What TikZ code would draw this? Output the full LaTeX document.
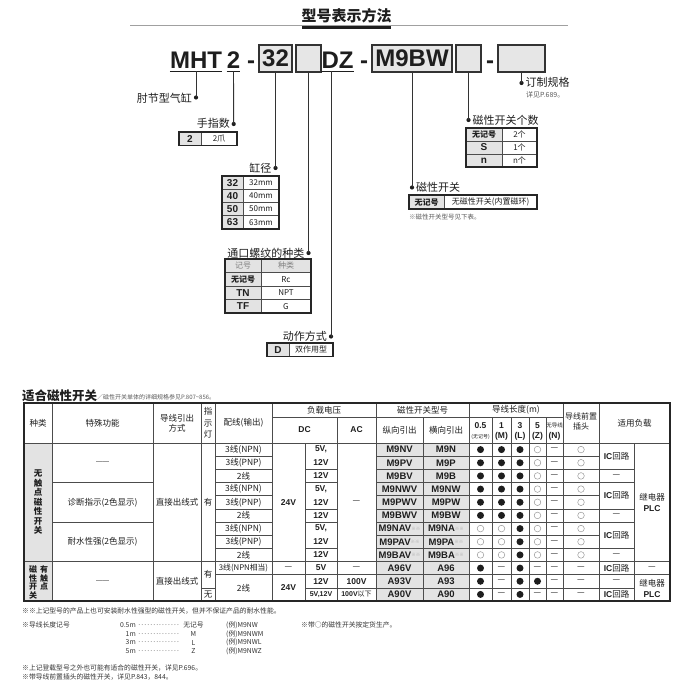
\documentclass[tikz,border=0pt]{standalone}
\usepackage{fontspec}
\setmainfont{Noto Sans CJK SC}
\newfontfamily\lat{Liberation Sans}
\usetikzlibrary{calc}
\newcommand\fsz[1]{\fontsize{#1}{#1}\selectfont}
\definecolor{cellgray}{HTML}{E3E3E3}
\definecolor{boxgray}{HTML}{E6E6E6}
\definecolor{rulegray}{HTML}{A0A0A0}
\definecolor{ink}{HTML}{1E1E1E}
\definecolor{soft}{HTML}{5A5A5A}
\newcommand\dstar{\raisebox{1.5pt}{\textcolor{black!35}{\rmfamily\mdseries\fsz{4.5}※※}}}
\newcommand\symF[3]{\fill[ink] (#2,#3) circle (3.5pt);}
\newcommand\symO[3]{\draw[black!40,line width=0.5pt] (#2,#3) circle (3.3pt);}
\newcommand\symD[3]{\node[cell] (#1) at (#2,#3) {—};}
\newcommand\ctrow[8]{%
  \fill[cellgray] (#2,#5) rectangle (#3,#6);
  \draw[ingrid] (#2,#5) rectangle (#4,#6) (#3,#5) -- (#3,#6);
  \node[ctl] (#1l) at ({(#2+#3)/2},{(#5+#6)/2}) {#7};
  \node[ctr] (#1r) at ({(#3+#4)/2},{(#5+#6)/2}) {#8};}
\begin{document}
\begin{tikzpicture}[x=1pt,y=-1pt,
  txt/.style={inner sep=0pt,text=ink},
  code/.style={txt,font=\lat\bfseries\fsz{24},anchor=base},
  cbox/.style={draw=black!80,line width=1.3pt,fill=boxgray,inner sep=0pt,minimum height=27pt,font=\lat\bfseries\fsz{24},text=ink},
  uline/.style={draw=ink,line width=1.3pt},
  lead/.style={draw=black!80,line width=0.9pt},
  dotc/.style={circle,fill=ink,inner sep=0pt,minimum size=4.2pt},
  lbl/.style={txt,font=\fsz{11}},
  ctl/.style={txt,font=\bfseries\fsz{8}},
  ctr/.style={txt,font=\fsz{8}},
  ingrid/.style={draw=black!70,line width=0.5pt},
  ctframe/.style={draw=black!85,line width=1.1pt},
  grid/.style={draw=black!70,line width=0.55pt},
  frame/.style={draw=black!85,line width=1.1pt},
  hd/.style={txt,font=\fontsize{8.5}{10}\selectfont,align=center},
  cell/.style={txt,font=\fsz{8.5}},
  num/.style={txt,font=\lat\bfseries\fsz{8.5}},
  mcode/.style={txt,font=\lat\bfseries\fsz{9.5}},
  note/.style={txt,font=\fsz{6.8},text=black!80,anchor=west},
]
\useasboundingbox (0,0) rectangle (700,700);

% ---------- title ----------
\draw[rulegray,line width=1.6pt] (130,25.5) -- (568,25.5);
\node[txt,font=\bfseries\fsz{15}] (title) at (346.5,15.5) {型号表示方法};
\draw[ink,line width=2.6pt] (302,27.5) -- (391,27.5);

% ---------- model code ----------
\node[code] (mht) at (196,68.5) {MHT};
\node[code] (two) at (233.5,68.5) {2};
\node[code] (hy1) at (251,68.5) {-};
\node[cbox,minimum width=33pt] (b32) at (275.5,58.5) {32};
\node[cbox,minimum width=25pt] (bport) at (308.5,58.5) {};
\node[code] (dz) at (337.5,68.5) {DZ};
\node[code] (hy2) at (364,68.5) {-};
\node[cbox,minimum width=80pt] (bsw) at (412,58.5) {M9BW};
\node[cbox,minimum width=25pt] (bnum) at (468.5,58.5) {};
\node[code] (hy3) at (490,68.5) {-};
\node[cbox,minimum width=47pt] (bopt) at (521.5,58.5) {};
\foreach \n in {mht,two,dz} \draw[uline] ($(\n.base west)+(0,2.8)$) -- ($(\n.base east)+(0,2.8)$);

% MHT
\node[dotc] (pmht) at (196,97.5) {};
\draw[lead] ($(mht.base)+(0,2.8)$) -- (pmht.center);
\node[lbl,anchor=east] (lmht) at (192,98) {肘节型气缸};

% fingers
\node[dotc] (ptwo) at (233.7,124) {};
\draw[lead] ($(two.base)+(0,2.8)$) -- (ptwo.center);
\node[lbl,anchor=east] (ltwo) at (230,123.5) {手指数};
\ctrow{fa}{179}{201}{237}{132}{145.5}{{\lat\bfseries\fsz{10}2}}{2爪}
\draw[ctframe] (179,132) rectangle (237,145.5);

% bore
\node[dotc] (pb32) at (275.5,168) {};
\draw[lead] (b32.south) -- (pb32.center);
\node[lbl,anchor=east] (lb32) at (271.5,168) {缸径};
\ctrow{ba}{222}{243}{279}{176}{189.25}{{\lat\bfseries\fsz{10}32}}{32mm}
\ctrow{bb}{222}{243}{279}{189.25}{202.5}{{\lat\bfseries\fsz{10}40}}{40mm}
\ctrow{bc}{222}{243}{279}{202.5}{215.75}{{\lat\bfseries\fsz{10}50}}{50mm}
\ctrow{bd}{222}{243}{279}{215.75}{229}{{\lat\bfseries\fsz{10}63}}{63mm}
\draw[ctframe] (222,176) rectangle (279,229);

% port thread
\node[dotc] (pport) at (308.5,253) {};
\draw[lead] (bport.south) -- (pport.center);
\node[lbl,anchor=east] (lport) at (304.5,253) {通口螺纹的种类};
\fill[cellgray] (225,259) rectangle (311,272.5);
\draw[ingrid] (225,259) rectangle (311,272.5) (261,259) -- (261,272.5);
\node[txt,font=\fsz{8},text=black!50] (pha) at (243,265.75) {记号};
\node[txt,font=\fsz{8},text=black!50] (phb) at (286,265.75) {种类};
\ctrow{pc}{225}{261}{311}{272.5}{286}{无记号}{Rc}
\ctrow{pd}{225}{261}{311}{286}{299.5}{{\lat\bfseries\fsz{10}TN}}{NPT}
\ctrow{pe}{225}{261}{311}{299.5}{313}{{\lat\bfseries\fsz{10}TF}}{G}
\draw[ctframe] (225,259) rectangle (311,313);

% action
\coordinate (dzb) at ($(dz.base)+(0,2.8)$);
\node[dotc] (pdz) at (331,336.5) {};
\draw[lead] (pdz |- dzb) -- (pdz.center);
\node[lbl,anchor=east] (ldz) at (327,336.5) {动作方式};
\ctrow{da}{267}{289}{333}{343}{356.5}{{\lat\bfseries\fsz{10}D}}{双作用型}
\draw[ctframe] (267,343) rectangle (333,356.5);

% switch
\node[dotc] (psw) at (412,187.5) {};
\draw[lead] (bsw.south) -- (psw.center);
\node[lbl,anchor=west] (lsw) at (416,187.5) {磁性开关};
\ctrow{sa}{409}{444}{537}{195}{209}{无记号}{无磁性开关(内置磁环)}
\draw[ctframe] (409,195) rectangle (537,209);
\node[note,font=\fsz{6.5},text=soft] (nsw) at (409,217.5) {※磁性开关型号见下表。};

% number of switches
\node[dotc] (pnum) at (468.5,120) {};
\draw[lead] (bnum.south) -- (pnum.center);
\node[lbl,anchor=west] (lnum) at (472.5,120) {磁性开关个数};
\ctrow{na}{466}{502}{537}{128}{141}{无记号}{2个}
\ctrow{nb}{466}{502}{537}{141}{154}{{\lat\bfseries\fsz{10}S}}{1个}
\ctrow{nc}{466}{502}{537}{154}{167}{{\lat\bfseries\fsz{10}n}}{n个}
\draw[ctframe] (466,128) rectangle (537,167);

% option
\node[dotc] (popt) at (521.5,83) {};
\draw[lead] (bopt.south) -- (popt.center);
\node[lbl,anchor=west] (lopt) at (525.5,82.5) {订制规格};
\node[txt,font=\fsz{7},text=soft,anchor=west] (lopt2) at (526,95) {详见P.689。};

% ---------- switch table ----------
\node[txt,font=\bfseries\fsz{12.5},anchor=west] (sec) at (22,395.5) {适合磁性开关};
\node[txt,font=\fsz{6},text=soft,anchor=west] (secn) at (97,397.5) {／磁性开关单体的详细规格参见P.807\textasciitilde 856。};

\fill[cellgray] (24,443) rectangle (52,601);
\fill[cellgray] (376,443) rectangle (469,601);
\foreach \x in {52,153,201,215,272,376,469,563,599} \draw[grid] (\x,403) -- (\x,443);
\foreach \x in {337,423,492,511,529,546} \draw[grid] (\x,417) -- (\x,443);
\draw[grid] (272,417) -- (563,417);
\draw[grid] (24,443) -- (670,443);
\foreach \x in {52,153,201,215,272,305,337,376,423,469,492,511,529,546,563,599,634} \draw[grid] (\x,443) -- (\x,601);
\foreach \xa/\xb/\ks in {24/52/{9},52/153/{3,6,9},153/201/{9},201/215/{9,11},215/272/{1,2,3,4,5,6,7,8,9,10},272/305/{9,10},305/337/{2,3,5,6,8,9,10,11},337/376/{9,10,11},376/599/{1,2,3,4,5,6,7,8,9,10,11},599/634/{2,3,5,6,8,9,10,11},634/670/{9,10}}
  {\foreach \k in \ks {\draw[grid] (\xa,{443+\k*13.1667}) -- (\xb,{443+\k*13.1667});}}
\draw[frame] (24,403) rectangle (670,601);

% header
\node[hd] (h1) at (38,423) {种类};
\node[hd] (h2) at (102.5,423) {特殊功能};
\node[hd] (h3) at (177,423) {导线引出\\方式};
\node[txt,font=\fontsize{8.5}{11.5}\selectfont,align=center] (h4) at (208,423) {指\\示\\灯};
\node[hd] (h5) at (243.5,423) {配线(输出)};
\node[hd] (h6) at (324,410) {负载电压};
\node[num] (h7) at (304.5,430) {DC};
\node[num] (h8) at (356.5,430) {AC};
\node[hd] (h9) at (422.5,410) {磁性开关型号};
\node[hd] (h10) at (399.5,430) {纵向引出};
\node[hd] (h11) at (446,430) {横向引出};
\node[hd] (h12) at (516,410) {导线长度(m)};
\node[num] (h13a) at (480.5,425.5) {0.5};
\node[txt,font=\fsz{5}] (h13b) at (480.5,436.5) {(无记号)};
\node[num] (h14a) at (501.5,425.5) {1};
\node[num] (h14b) at (501.5,436.5) {(M)};
\node[num] (h15a) at (520,425.5) {3};
\node[num] (h15b) at (520,436.5) {(L)};
\node[num] (h16a) at (537.5,425.5) {5};
\node[num] (h16b) at (537.5,436.5) {(Z)};
\node[txt,font=\fsz{5.5}] (h17a) at (554.5,425.5) {无导线};
\node[num] (h17b) at (554.5,436.5) {(N)};
\node[txt,font=\fontsize{8}{9.5}\selectfont,align=center] (h18) at (581,421.5) {导线前置\\插头};
\node[hd] (h19) at (634.5,423) {适用负载};

% kind
\node[txt,font=\bfseries\fontsize{8.5}{9.5}\selectfont,align=center] (k1) at (38,502.25) {无\\触\\点\\磁\\性\\开\\关};
\node[txt,font=\bfseries\fontsize{8}{8.7}\selectfont,align=center] (k2) at (33,582.5) {磁\\性\\开\\关};
\node[txt,font=\bfseries\fontsize{8}{8.7}\selectfont,align=center] (k3) at (44,578) {有\\触\\点};
% special function
\node[txt,font=\lat\fsz{6.5}] (f1) at (102.5,462.75) {——};
\node[cell] (f2) at (102.5,502.25) {诊断指示(2色显示)};
\node[cell] (f3) at (102.5,541.75) {耐水性强(2色显示)};
\node[txt,font=\lat\fsz{6.5}] (f4) at (102.5,581.25) {——};
% lead wire
\node[cell] (w1) at (177,502.25) {直接出线式};
\node[cell] (w2) at (177,581.25) {直接出线式};
% indicator
\node[cell] (i1) at (208,502.25) {有};
\node[cell] (i2) at (208,574.67) {有};
\node[cell] (i3) at (208,594.42) {无};
% wiring
\foreach \r/\yy/\t in {1/449.58/{3线(NPN)},2/462.75/{3线(PNP)},3/475.92/{2线},4/489.08/{3线(NPN)},5/502.25/{3线(PNP)},6/515.42/{2线},7/528.58/{3线(NPN)},8/541.75/{3线(PNP)},9/554.92/{2线}}
  {\node[cell] (o\r) at (243.5,\yy) {\t};}
\node[cell,font=\fsz{7.8}] (o10) at (243.5,568.08) {3线(NPN相当)};
\node[cell] (o11) at (243.5,588) {2线};
% DC
\node[num] (dc1) at (288.5,502.25) {24V};
\node[cell] (dc2) at (288.5,568.08) {—};
\node[num] (dc3) at (288.5,588) {24V};
\foreach \r/\yy/\t in {1/449.58/{5V,},2/462.75/12V,3/475.92/12V,4/489.08/{5V,},5/502.25/12V,6/515.42/12V,7/528.58/{5V,},8/541.75/12V,9/554.92/12V,10/568.08/5V,11/581.25/12V}
  {\node[num] (v\r) at (321,\yy) {\t};}
\node[num,font=\lat\bfseries\fsz{7}] (v12) at (321,594.42) {5V,12V};
% AC
\node[cell] (ac1) at (356.5,502.25) {—};
\node[cell] (ac2) at (356.5,568.08) {—};
\node[num] (ac3) at (356.5,581.25) {100V};
\node[txt,font=\fsz{7}] (ac4) at (356.5,594.42) {{\lat\bfseries 100V}以下};
% model numbers
\foreach \r/\yy/\v/\h in {1/449.58/M9NV/M9N,2/462.75/M9PV/M9P,3/475.92/M9BV/M9B,4/489.08/M9NWV/M9NW,5/502.25/M9PWV/M9PW,6/515.42/M9BWV/M9BW,7/528.58/M9NAV\dstar/M9NA\dstar,8/541.75/M9PAV\dstar/M9PA\dstar,9/554.92/M9BAV\dstar/M9BA\dstar,10/568.08/A96V/A96,11/581.25/A93V/A93,12/594.42/A90V/A90}
  {\node[mcode] (mv\r) at (399.5,\yy) {\v};
   \node[mcode] (mh\r) at (446,\yy) {\h};}
% lead length symbols and connector
\foreach \r/\yy/\a/\b/\c/\d/\e/\f in {1/449.58/F/F/F/O/D/O,2/462.75/F/F/F/O/D/O,3/475.92/F/F/F/O/D/O,4/489.08/F/F/F/O/D/O,5/502.25/F/F/F/O/D/O,6/515.42/F/F/F/O/D/O,7/528.58/O/O/F/O/D/O,8/541.75/O/O/F/O/D/O,9/554.92/O/O/F/O/D/O,10/568.08/F/D/F/D/D/D,11/581.25/F/D/F/F/D/D,12/594.42/F/D/F/D/D/D}
  {\csname sym\a\endcsname{s\r a}{480.5}{\yy}
   \csname sym\b\endcsname{s\r b}{501.5}{\yy}
   \csname sym\c\endcsname{s\r c}{520}{\yy}
   \csname sym\d\endcsname{s\r d}{537.5}{\yy}
   \csname sym\e\endcsname{s\r e}{554.5}{\yy}
   \csname sym\f\endcsname{s\r f}{581}{\yy}}
% applicable load
\node[cell] (ic1) at (616.5,456.17) {{\lat\bfseries IC}回路};
\node[cell] (ic2) at (616.5,475.92) {—};
\node[cell] (ic3) at (616.5,495.67) {{\lat\bfseries IC}回路};
\node[cell] (ic4) at (616.5,515.42) {—};
\node[cell] (ic5) at (616.5,535.17) {{\lat\bfseries IC}回路};
\node[cell] (ic6) at (616.5,554.92) {—};
\node[cell] (ic7) at (616.5,568.08) {{\lat\bfseries IC}回路};
\node[cell] (ic8) at (616.5,581.25) {—};
\node[cell] (ic9) at (616.5,594.42) {{\lat\bfseries IC}回路};
\node[txt,font=\fontsize{8.5}{11}\selectfont,align=center] (rl1) at (652,502.25) {继电器\\{\lat\bfseries PLC}};
\node[cell] (rl2) at (652,568.08) {—};
\node[txt,font=\fontsize{8.5}{11}\selectfont,align=center] (rl3) at (652,588) {继电器\\{\lat\bfseries PLC}};

% ---------- notes ----------
\node[note] (n1) at (22,611) {※※上记型号的产品上也可安装耐水性强型的磁性开关，但并不保证产品的耐水性能。};
\node[note] (n2) at (22,625) {※导线长度记号};
\foreach \i/\yy/\a/\b/\c in {1/625/0.5m/无记号/M9NW,2/634/1m/M/M9NWM,3/642.5/3m/L/M9NWL,4/651/5m/Z/M9NWZ}
  {\node[note,anchor=east] (la\i) at (136,\yy) {\a};
   \node[note] (lb\i) at (137,\yy) {\makebox[43pt]{\dotfill}};
   \node[note,anchor=center] (lc\i) at (193.5,\yy) {\b};
   \node[note] (ld\i) at (226,\yy) {(例)\c};}
\node[note] (n3) at (301,625) {※带○的磁性开关按定货生产。};
\node[note] (n4) at (22,668) {※上记登载型号之外也可能有适合的磁性开关，详见P.696。};
\node[note] (n5) at (22,677) {※带导线前置插头的磁性开关，详见P.843，844。};
\end{tikzpicture}
\end{document}
